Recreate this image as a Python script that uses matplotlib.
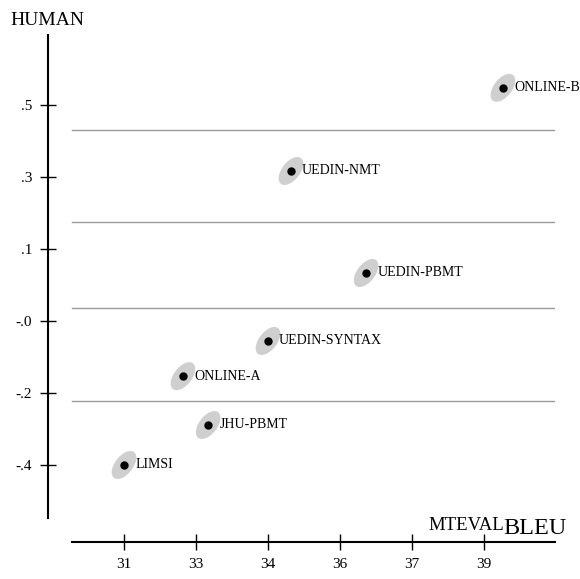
import numpy as np
import matplotlib
matplotlib.use('Agg')
import matplotlib.pyplot as plt
from matplotlib.collections import EllipseCollection

plt.rcParams['font.family'] = ['Liberation Serif', 'DejaVu Serif']

# systems: BLEU (x) vs HUMAN (y)
systems = ['LIMSI', 'JHU-PBMT', 'ONLINE-A', 'UEDIN-SYNTAX', 'UEDIN-PBMT', 'UEDIN-NMT', 'ONLINE-B']
bleu = [31.0, 32.87, 32.31, 34.2, 36.38, 34.71, 39.42]
human = [-0.40, -0.30, -0.178, -0.09, 0.08, 0.335, 0.543]

xticks = [31.0, 32.6, 34.2, 35.8, 37.4, 39.0]
xlabels = ['31', '33', '34', '36', '37', '39']
yticks = [-0.40, -0.22, -0.04, 0.14, 0.32, 0.50]
ylabels = ['-.4', '-.2', '-.0', '.1', '.3', '.5']

# cluster boundaries
sep = [0.4375, 0.2075, -0.0075, -0.24]

W, H = 580, 579
fig = plt.figure(figsize=(W/100, H/100), dpi=100)
ax = fig.add_axes([48/W, 1-542/H, (555-48)/W, (542-35)/H])
ax.set_xlim(29.311, 40.578)
ax.set_ylim(-0.5925, 0.675)

for s in sep:
    ax.plot([29.844, 40.578], [s, s], color='#9a9a9a', lw=1.0, zorder=1)

ec = EllipseCollection([23.5]*len(bleu), [13]*len(bleu), [52]*len(bleu), units='points',
                       offsets=np.column_stack([bleu, human]), offset_transform=ax.transData,
                       facecolors='#cfcfcf', edgecolors='none', zorder=2)
ax.add_collection(ec)
ax.plot(bleu, human, 'o', color='k', ms=5, zorder=3)
for name, x, y in zip(systems, bleu, human):
    ax.annotate(name, (x, y), xytext=(8, 0), textcoords='offset points',
                va='center', ha='left', fontsize=10, zorder=4)

ax.spines['top'].set_visible(False)
ax.spines['right'].set_visible(False)
ax.spines['left'].set_bounds(-0.5325, 0.675)
ax.spines['bottom'].set_bounds(29.844, 40.578)
ax.spines['left'].set_linewidth(1.5)
ax.spines['bottom'].set_linewidth(1.5)

ax.set_xticks(xticks)
ax.set_xticklabels(xlabels)
ax.set_yticks(yticks)
ax.set_yticklabels(ylabels)
ax.tick_params(direction='inout', length=11, width=1, pad=6, labelsize=11)

fig.text(10/W, 1-25/H, 'HUMAN', fontsize=14, ha='left', va='baseline')
t = fig.text(428/W, 1-530/H, 'MTEVAL', fontsize=13.5, ha='left', va='baseline')
fig.canvas.draw()
ax.annotate('BLEU', xy=(1, 0), xycoords=t, xytext=(0, 0), textcoords='offset points',
            fontsize=17.5, ha='left', va='baseline', annotation_clip=False)

fig.savefig('out.png', dpi=100)
